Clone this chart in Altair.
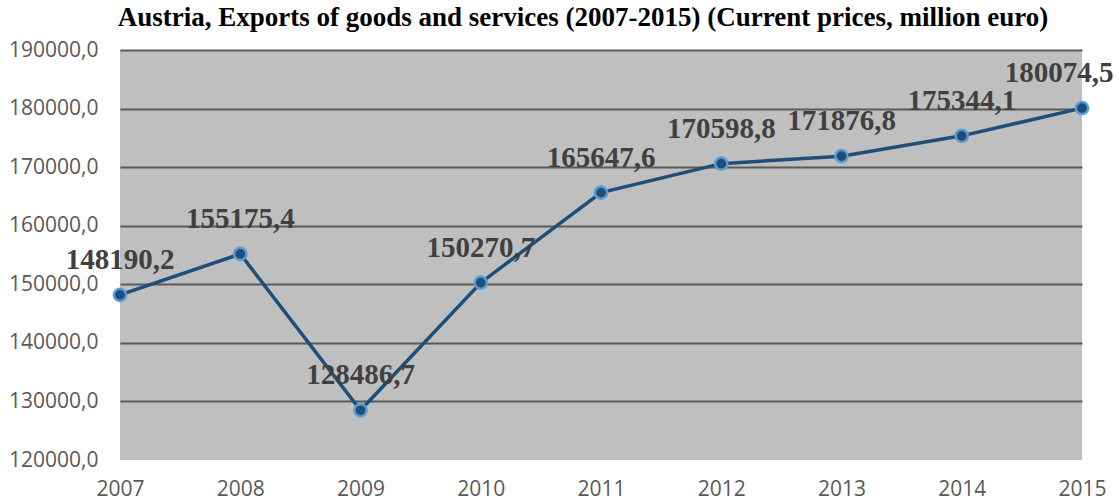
import altair as alt
import pandas as pd

years = [2007, 2008, 2009, 2010, 2011, 2012, 2013, 2014, 2015]
exports = [148190.2, 155175.4, 128486.7, 150270.7, 165647.6, 170598.8, 171876.8, 175344.1, 180074.5]
labels = ["148190,2", "155175,4", "128486,7", "150270,7", "165647,6",
          "170598,8", "171876,8", "175344,1", "180074,5"]
y_ticks = [120000, 130000, 140000, 150000, 160000, 170000, 180000, 190000]

df = pd.DataFrame({"year": years, "value": exports, "label": labels})

x_enc = alt.X("year:Q", scale=alt.Scale(domain=[2007, 2015], nice=False, zero=False),
              axis=alt.Axis(values=years, format="d", grid=False, domain=False, ticks=False,
                            labelFont="Open Sans", labelFontSize=21, labelColor="#595959",
                            labelPadding=18, title=None, labelFlush=False))
y_enc = alt.Y("value:Q", scale=alt.Scale(domain=[120000, 190000], nice=False, zero=False),
              axis=alt.Axis(values=y_ticks, grid=True,
                            gridColor={"condition": {"test": "datum.value === 120000", "value": "transparent"},
                                       "value": "#5a5a5a"},
                            gridWidth=2, domain=False, ticks=False,
                            labelExpr="replace(format(datum.value, '.1f'), '.', ',')",
                            labelFont="Open Sans", labelFontSize=21, labelColor="#595959",
                            labelPadding=22, title=None))

base = alt.Chart(df)
line = base.mark_line(color="#1F4E79", strokeWidth=3.5).encode(x=x_enc, y=y_enc)
pts = base.mark_point(filled=True, fill="#1F4E79", stroke="#5B9BD5", strokeWidth=2.5,
                      size=150, opacity=1, shape="circle").encode(x="year:Q", y="value:Q")
txt_style = dict(font="Liberation Serif", fontWeight="bold", fontSize=29,
                 color="#404040", dy=-35, baseline="middle")
txt = base.transform_filter("datum.year < 2015").mark_text(**txt_style).encode(
    x="year:Q", y="value:Q", text="label:N")
txt_last = base.transform_filter("datum.year == 2015").mark_text(dx=-23, **txt_style).encode(
    x="year:Q", y="value:Q", text="label:N")

chart = alt.layer(line, pts, txt, txt_last).properties(
    width=962, height=410,
    background="white",
    autosize=alt.AutoSizeParams(type="none"),
    padding={"left": 120, "top": 50, "right": 37, "bottom": 41},
    title=alt.TitleParams(
        "Austria, Exports of goods and services (2007-2015) (Current prices, million euro)",
        font="Liberation Serif", fontSize=27, fontWeight="bold", color="#000000",
        anchor="middle", dx=-18, offset=7),
).configure_view(fill="#BFBFBF", strokeWidth=0)

chart.save("out.html", embed_options={"renderer": "svg", "actions": False})
